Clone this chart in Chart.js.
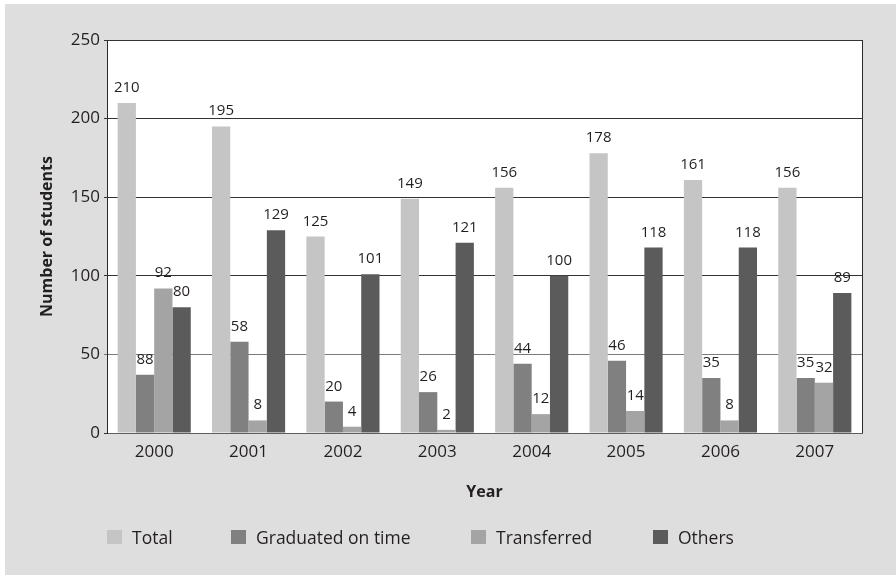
<!DOCTYPE html>
<html>
<head>
<meta charset="utf-8">
<script src="https://cdn.jsdelivr.net/npm/chart.js@4.4.1/dist/chart.umd.min.js"></script>
<style>
  html, body { margin: 0; padding: 0; background: #ffffff; }
  #wrap { position: absolute; left: 5px; top: 4px; width: 891px; height: 571px; background: #dedede; }
  #c { position: absolute; left: 0; top: 0; }
  #legend { position: absolute; left: 0; top: 521px; width: 891px; height: 24px;
            font-family: "Open Sans", sans-serif; font-size: 17.5px; color: #231f20; }
  .item { position: absolute; top: 0; height: 24px; display: flex; align-items: center; white-space: nowrap; }
  .box { width: 15px; height: 14px; margin-right: 10px; }
</style>
</head>
<body>
<div id="wrap">
  <canvas id="c" width="891" height="571"></canvas>
  <div id="legend"></div>
</div>
<script>
const years = ['2000', '2001', '2002', '2003', '2004', '2005', '2006', '2007'];
const totalValues = [210, 195, 125, 149, 156, 178, 161, 156];
const graduatedValues = [37, 58, 20, 26, 44, 46, 35, 35];
const graduatedLabels = ['88', '58', '20', '26', '44', '46', '35', '35'];
const transferredValues = [92, 8, 4, 2, 12, 14, 8, 32];
const othersValues = [80, 129, 101, 121, 100, 118, 118, 89];
const yTicks = [0, 50, 100, 150, 200, 250];

const FONT = '"Open Sans", sans-serif';
const TEXT = '#231f20';
const legendLefts = [102, 226, 466, 648];

const plotBg = {
  id: 'plotBg',
  beforeDraw(chart) {
    const {ctx, chartArea: a} = chart;
    ctx.save();
    ctx.fillStyle = '#ffffff';
    ctx.fillRect(a.left, a.top, a.right - a.left, a.bottom - a.top);
    ctx.restore();
  },
  afterDraw(chart) {
    const {ctx, chartArea: a} = chart;
    ctx.save();
    ctx.strokeStyle = '#2b2b2b';
    ctx.lineWidth = 1;
    ctx.beginPath();
    ctx.moveTo(Math.round(a.right) + 0.5, a.top);
    ctx.lineTo(Math.round(a.right) + 0.5, a.bottom);
    ctx.stroke();
    ctx.restore();
  }
};

const valueLabels = {
  id: 'valueLabels',
  afterDatasetsDraw(chart) {
    const {ctx} = chart;
    ctx.save();
    ctx.font = '15px ' + FONT;
    ctx.fillStyle = TEXT;
    ctx.textAlign = 'center';
    ctx.textBaseline = 'alphabetic';
    chart.data.datasets.forEach((ds, di) => {
      const meta = chart.getDatasetMeta(di);
      meta.data.forEach((bar, i) => {
        const txt = ds.valueLabels ? ds.valueLabels[i] : String(ds.data[i]);
        ctx.fillText(txt, bar.x, bar.y - 11);
      });
    });
    ctx.restore();
  }
};

const chart = new Chart(document.getElementById('c'), {
  type: 'bar',
  data: {
    labels: years,
    datasets: [
      { label: 'Total', data: totalValues, backgroundColor: '#c4c5c4' },
      { label: 'Graduated on time', data: graduatedValues, valueLabels: graduatedLabels, backgroundColor: '#808080' },
      { label: 'Transferred', data: transferredValues, backgroundColor: '#a3a4a3' },
      { label: 'Others', data: othersValues, backgroundColor: '#5b5b5b' }
    ]
  },
  options: {
    responsive: false,
    animation: false,
    devicePixelRatio: 1,
    layout: { padding: { left: 0, top: 36, right: 34, bottom: 62 } },
    datasets: { bar: { categoryPercentage: 0.775, barPercentage: 1.0, borderWidth: 0 } },
    plugins: { legend: { display: false }, tooltip: { enabled: false } },
    scales: {
      x: {
        grid: { display: false, drawTicks: false },
        border: { display: true, color: '#5e5e5e', width: 1 },
        ticks: { color: TEXT, font: { family: FONT, size: 17 }, padding: 9 },
        title: { display: true, text: 'Year', color: TEXT, font: { family: FONT, size: 16, weight: 'bold' }, padding: { top: 0, bottom: 11 } },
        afterFit(s) { s.height = 80; }
      },
      y: {
        min: 0, max: 250,
        afterBuildTicks(s) { s.ticks = yTicks.map(v => ({ value: v })); },
        grid: {
          color: (c) => (c.tick && c.tick.value === 50 ? '#7a7a7a' : '#333333'),
          lineWidth: 1, tickLength: 3
        },
        border: { display: true, color: '#2b2b2b', width: 1 },
        ticks: { color: TEXT, font: { family: FONT, size: 17 }, padding: 4 },
        title: { display: true, text: 'Number of students', color: TEXT, font: { family: FONT, size: 16, weight: 'bold' }, padding: { top: 33, bottom: 0 } },
        afterFit(s) { s.width = 102; }
      }
    }
  },
  plugins: [plotBg, valueLabels]
});

// HTML legend built from the chart's datasets
const legendEl = document.getElementById('legend');
chart.data.datasets.forEach((ds, i) => {
  const item = document.createElement('div');
  item.className = 'item';
  item.style.left = legendLefts[i] + 'px';
  const box = document.createElement('span');
  box.className = 'box';
  box.style.background = ds.backgroundColor;
  const txt = document.createElement('span');
  txt.textContent = ds.label;
  item.appendChild(box);
  item.appendChild(txt);
  legendEl.appendChild(item);
});
</script>
</body>
</html>
